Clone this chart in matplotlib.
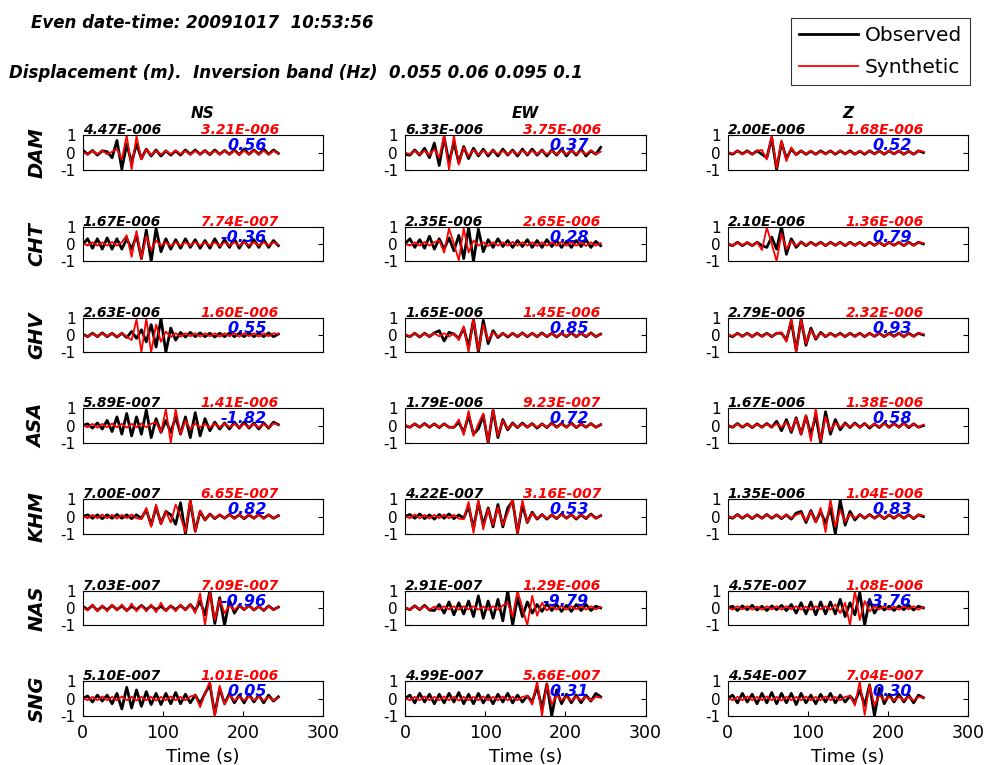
import numpy as np
import matplotlib
matplotlib.use("Agg")
import matplotlib.pyplot as plt

# ---------------- data (normalised waveforms) ----------------
SAMPLE_INTERVAL_S = 6.1   # spacing of the read-off samples (s)

STATIONS = ["DAM", "CHT", "GHV", "ASA", "KHM", "NAS", "SNG"]
COMPONENTS = ["NS", "EW", "Z"]

# amplitude labels (observed max, synthetic max) and variance reduction
OBS_MAX = [["4.47E-006", "6.33E-006", "2.00E-006"],
           ["1.67E-006", "2.35E-006", "2.10E-006"],
           ["2.63E-006", "1.65E-006", "2.79E-006"],
           ["5.89E-007", "1.79E-006", "1.67E-006"],
           ["7.00E-007", "4.22E-007", "1.35E-006"],
           ["7.03E-007", "2.91E-007", "4.57E-007"],
           ["5.10E-007", "4.99E-007", "4.54E-007"]]
SYN_MAX = [["3.21E-006", "3.75E-006", "1.68E-006"],
           ["7.74E-007", "2.65E-006", "1.36E-006"],
           ["1.60E-006", "1.45E-006", "2.32E-006"],
           ["1.41E-006", "9.23E-007", "1.38E-006"],
           ["6.65E-007", "3.16E-007", "1.04E-006"],
           ["7.09E-007", "1.29E-006", "1.08E-006"],
           ["1.01E-006", "5.66E-007", "7.04E-007"]]
VAR_RED = [[0.56, 0.37, 0.52],
           [-0.36, 0.28, 0.79],
           [0.55, 0.85, 0.93],
           [-1.82, 0.72, 0.58],
           [0.82, 0.53, 0.83],
           [-0.96, -9.79, -3.76],
           [0.05, 0.31, 0.30]]

DAM_NS_OBS = [0.15,-0.1,0.12,-0.15,0.1,0.05,-0.3,0.7,-0.96,0.5,
              -0.6,0.5,-0.35,0.2,-0.2,0.15,-0.2,0.1,-0.15,0.1,
              -0.15,0.15,-0.1,0.15,-0.1,0.12,-0.12,0.15,-0.1,0.12,
              -0.1,0.15,-0.12,0.2,-0.1,0.15,-0.1,0.2,-0.1,0.15,-0.05]
DAM_NS_SYN = [0.05,-0.12,0.1,-0.1,0.12,-0.1,0.05,0.2,-0.4,1.0,
              -1.0,0.95,-0.4,0.2,-0.15,0.1,-0.12,0.1,-0.1,0.12,
              -0.1,0.1,-0.12,0.1,-0.1,0.12,-0.1,0.1,-0.1,0.12,
              -0.1,0.1,-0.12,0.1,-0.1,0.12,-0.1,0.1,-0.12,0.1,-0.05]
CHT_NS_OBS = [-0.05,0.3,-0.25,0.3,-0.3,0.35,-0.3,0.3,-0.3,0.3,
              -0.3,0.5,-0.85,0.8,-1.0,0.9,-0.45,0.3,-0.3,0.25,
              -0.25,0.3,-0.2,0.25,-0.25,0.2,-0.25,0.3,-0.2,0.25,
              -0.2,0.3,-0.25,0.2,-0.2,0.25,-0.2,0.25,-0.2,0.2,-0.1]
CHT_NS_SYN = [0.05,-0.1,0.1,-0.1,0.1,-0.1,0.12,-0.1,0.1,0.5,
              -0.75,0.75,-0.85,0.45,-0.35,0.2,-0.1,0.1,-0.12,0.1,
              -0.1,0.1,-0.1,0.12,-0.1,0.1,-0.1,0.1,-0.12,0.1,
              -0.1,0.1,-0.1,0.12,-0.1,0.1,-0.1,0.1,-0.1,0.1,-0.05]
GHV_NS_OBS = [0.05,-0.1,0.1,-0.1,0.12,-0.1,0.1,-0.12,0.1,-0.15,
              0.2,-0.2,0.3,-0.4,0.6,-0.7,0.95,-1.0,0.4,-0.3,
              0.15,-0.12,0.15,-0.1,0.12,-0.1,0.1,-0.12,0.1,-0.1,
              0.12,-0.1,0.1,-0.1,0.12,-0.1,0.1,-0.1,0.12,-0.1,0.05]
GHV_NS_SYN = [0.0,-0.1,0.08,-0.1,0.1,-0.08,0.1,-0.1,0.1,-0.1,
              -0.3,0.9,-1.0,0.95,-1.0,0.6,-0.4,0.2,-0.12,0.1,
              -0.1,0.1,-0.08,0.1,-0.1,0.1,-0.08,0.1,-0.1,0.1,
              -0.08,0.1,-0.1,0.1,-0.08,0.1,-0.1,0.1,-0.08,0.1,0.05]
ASA_NS_OBS = [0.0,0.1,-0.15,0.15,-0.2,0.3,-0.35,0.5,-0.5,0.7,
              -0.6,0.5,-0.5,0.9,-0.7,0.4,-0.4,0.3,-0.4,0.5,
              -0.5,0.5,-0.7,0.75,-0.6,0.4,-0.3,0.2,-0.2,0.15,
              -0.2,0.2,-0.15,0.2,-0.15,0.15,-0.2,0.15,-0.15,0.2,0.05]
ASA_NS_SYN = [0.05,-0.1,0.1,-0.12,0.1,-0.1,0.12,-0.1,0.1,-0.12,
              0.1,-0.1,0.12,-0.1,0.1,0.2,-0.4,0.95,-1.0,0.95,
              -0.5,0.3,-0.2,0.12,-0.1,0.1,-0.12,0.1,-0.1,0.12,
              -0.1,0.1,-0.12,0.1,-0.1,0.1,-0.12,0.1,-0.1,0.12,0.05]
KHM_NS_OBS = [0.0,0.1,-0.1,0.1,-0.12,0.1,-0.1,0.12,-0.1,0.1,
              -0.12,0.1,-0.1,0.4,-0.5,0.55,-0.4,0.3,0.1,-0.45,
              0.8,-1.0,0.9,-0.85,0.3,-0.2,0.15,-0.12,0.1,-0.1,
              0.12,-0.1,0.1,-0.12,0.1,-0.1,0.12,-0.1,0.1,-0.1,0.05]
KHM_NS_SYN = [0.05,-0.1,0.1,-0.1,0.12,-0.1,0.1,-0.12,0.1,-0.1,
              0.12,-0.1,-0.15,0.5,-0.6,0.7,-0.45,0.3,-0.35,0.7,
              0.0,-0.9,1.0,-0.9,0.35,-0.2,0.15,-0.1,0.12,-0.1,
              0.1,-0.12,0.1,-0.1,0.12,-0.1,0.1,-0.12,0.1,-0.1,0.05]
NAS_NS_OBS = [0.1,-0.1,0.15,-0.15,0.1,-0.12,0.15,-0.1,0.12,-0.15,
              0.1,-0.1,0.15,-0.1,0.12,-0.1,0.1,-0.15,0.12,-0.1,
              0.15,-0.1,0.2,-0.15,0.4,-0.4,1.0,-0.9,0.6,-1.0,
              0.45,-0.3,0.15,-0.1,0.15,-0.12,0.1,-0.15,0.12,-0.1,0.05]
NAS_NS_SYN = [0.05,-0.15,0.2,-0.2,0.15,-0.2,0.2,-0.15,0.2,-0.2,
              0.25,-0.2,0.15,-0.2,0.2,-0.25,0.3,-0.2,0.15,-0.2,
              0.2,-0.15,0.2,-0.3,0.85,-1.0,0.9,-0.7,0.5,-0.3,
              0.15,-0.12,0.15,-0.1,0.15,-0.12,0.1,-0.15,0.1,-0.12,0.05]
SNG_NS_OBS = [0.0,0.15,-0.2,0.2,-0.15,0.2,-0.3,0.3,-0.6,0.65,
              -0.55,0.5,-0.45,0.4,-0.35,0.3,-0.35,0.3,-0.3,0.35,
              -0.3,0.25,-0.25,0.2,-0.3,0.3,0.8,-0.9,0.6,-0.3,
              0.3,-0.25,0.2,-0.25,0.25,-0.2,0.2,-0.25,0.2,-0.15,0.1]
SNG_NS_SYN = [0.05,-0.1,0.1,-0.1,0.12,-0.1,0.1,-0.1,0.12,-0.1,
              0.1,-0.12,0.1,-0.1,0.1,-0.12,0.1,-0.1,0.12,-0.1,
              0.1,-0.1,0.12,0.2,-0.5,0.3,1.0,-1.0,0.75,-0.35,
              0.2,-0.12,0.1,-0.1,0.12,-0.1,0.1,-0.12,0.1,-0.1,0.05]

DAM_EW_OBS = [-0.1,-0.15,0.15,-0.15,0.25,-0.3,0.55,-0.75,0.9,-0.6,
              0.6,-0.6,0.35,-0.35,0.25,-0.2,0.2,-0.2,0.15,-0.2,
              0.2,-0.15,0.15,-0.2,0.2,-0.15,0.2,-0.15,0.15,-0.2,
              0.15,-0.15,0.2,-0.2,0.15,-0.15,0.2,-0.2,0.1,-0.1,0.3]
DAM_EW_SYN = [0.0,-0.1,0.1,-0.12,0.1,-0.15,0.2,-0.3,1.0,-1.0,
              1.0,-0.7,0.3,-0.2,0.15,-0.12,0.1,-0.1,0.12,-0.1,
              0.1,-0.12,0.1,-0.1,0.12,-0.1,0.1,-0.1,0.12,-0.1,
              0.1,-0.12,0.1,-0.1,0.12,-0.1,0.1,-0.1,0.12,-0.1,0.05]
CHT_EW_OBS = [0.0,0.3,-0.2,0.25,-0.25,0.45,-0.3,0.3,-0.3,0.35,
              -0.4,0.5,-0.85,0.95,-1.0,0.85,-0.45,0.25,-0.2,0.3,
              -0.15,0.2,-0.2,0.2,-0.15,0.25,-0.2,0.2,-0.2,0.25,
              -0.15,0.2,-0.2,0.15,-0.2,0.2,-0.15,0.25,-0.2,0.15,-0.1]
CHT_EW_SYN = [0.0,-0.1,0.1,-0.1,0.12,-0.1,0.1,0.2,-0.5,0.9,
              0.0,-0.95,0.9,-0.5,0.2,-0.1,0.1,-0.12,0.1,-0.1,
              0.1,-0.1,0.12,-0.1,0.1,-0.1,0.1,-0.12,0.1,-0.1,
              0.1,-0.1,0.12,-0.1,0.1,-0.1,0.1,-0.12,0.1,-0.1,0.05]
GHV_EW_OBS = [0.0,-0.1,0.1,-0.12,0.1,-0.1,0.12,0.25,-0.35,0.15,
              0.05,-0.2,0.4,-0.7,0.9,-1.0,0.85,-0.5,0.25,-0.15,
              0.1,-0.12,0.1,-0.1,0.12,-0.1,0.1,-0.1,0.12,-0.1,
              0.1,-0.12,0.1,-0.1,0.12,-0.1,0.1,-0.1,0.12,-0.1,0.05]
GHV_EW_SYN = [0.05,-0.1,0.1,-0.1,0.08,-0.1,0.1,-0.08,0.1,-0.1,
              0.1,-0.3,0.5,-1.0,1.0,-0.9,0.6,-0.3,0.15,-0.1,
              0.1,-0.08,0.1,-0.1,0.1,-0.08,0.1,-0.1,0.1,-0.08,
              0.1,-0.1,0.1,-0.08,0.1,-0.1,0.1,-0.08,0.1,-0.1,0.05]
ASA_EW_OBS = [0.0,-0.1,0.1,-0.1,0.12,-0.1,0.1,-0.12,0.1,-0.1,
              -0.1,0.2,-0.4,0.6,-0.5,-0.2,0.6,-1.0,0.9,-0.7,
              0.35,-0.25,0.15,-0.12,0.15,-0.1,0.12,-0.15,0.1,-0.12,
              0.15,-0.1,0.12,-0.1,0.15,-0.12,0.1,-0.1,0.12,-0.1,0.05]
ASA_EW_SYN = [0.05,-0.1,0.1,-0.1,0.1,-0.08,0.1,-0.1,0.1,-0.1,
              -0.1,0.35,-0.55,0.85,-0.6,0.1,0.7,-0.95,0.95,-0.6,
              0.3,-0.2,0.12,-0.1,0.1,-0.1,0.12,-0.1,0.1,-0.1,
              0.12,-0.1,0.1,-0.1,0.12,-0.1,0.1,-0.1,0.12,-0.1,0.05]
KHM_EW_OBS = [0.0,0.12,-0.1,0.15,-0.12,0.1,-0.15,0.12,-0.1,0.15,
              -0.12,0.1,-0.1,0.6,-0.7,0.8,-0.5,0.5,-0.6,0.7,
              -0.6,0.5,0.9,-0.95,0.7,-0.35,0.25,-0.15,0.12,-0.15,
              0.1,-0.12,0.15,-0.1,0.12,-0.15,0.1,-0.12,0.15,-0.1,0.05]
KHM_EW_SYN = [0.05,-0.1,0.12,-0.1,0.1,-0.12,0.1,-0.1,0.12,-0.1,
              0.1,-0.12,-0.15,0.85,-0.95,1.0,-0.75,0.45,-0.5,0.55,
              -0.5,0.2,1.0,-1.0,0.95,-0.35,0.2,-0.12,0.1,-0.12,
              0.1,-0.1,0.12,-0.1,0.1,-0.12,0.1,-0.1,0.12,-0.1,0.05]
NAS_EW_OBS = [0.0,-0.1,0.12,-0.1,0.15,-0.12,-0.15,0.2,-0.3,0.35,
              -0.4,0.3,-0.35,0.4,-0.5,0.7,-0.6,0.4,-0.6,0.5,
              -0.75,1.0,-1.0,0.6,-0.5,0.35,-0.3,0.2,-0.2,0.25,
              -0.15,0.2,-0.2,0.15,-0.2,0.2,-0.15,0.2,-0.15,0.1,0.0]
NAS_EW_SYN = [0.05,-0.1,0.1,-0.08,0.1,-0.1,0.08,-0.1,0.1,-0.08,
              0.1,-0.1,0.1,-0.08,0.1,-0.1,0.08,-0.1,0.1,-0.1,
              0.15,0.3,-0.5,1.0,0.0,-1.0,0.7,-0.45,0.3,-0.15,
              0.1,-0.1,0.12,-0.1,0.1,-0.08,0.1,-0.1,0.1,-0.08,0.05]
SNG_EW_OBS = [0.0,0.2,-0.25,0.3,-0.2,0.25,-0.3,0.25,-0.25,0.3,
              -0.2,0.35,-0.3,0.25,-0.3,0.3,-0.25,0.2,-0.3,0.25,
              -0.2,0.3,-0.25,0.2,-0.2,0.15,-0.2,0.7,-0.6,0.85,
              -1.0,0.5,-0.3,0.25,-0.25,0.2,-0.25,0.2,-0.15,0.3,0.1]
SNG_EW_SYN = [0.05,-0.1,0.1,-0.1,0.12,-0.1,0.1,-0.1,0.12,-0.1,
              0.1,-0.12,0.1,-0.1,0.1,-0.1,0.12,-0.1,0.1,-0.1,
              0.12,-0.1,0.1,-0.1,0.1,0.15,-0.35,1.0,-1.0,0.85,
              -0.35,0.2,-0.1,0.1,-0.12,0.1,-0.1,0.1,-0.12,0.1,0.05]

DAM_Z_OBS = [0.0,-0.1,0.1,-0.08,0.1,-0.1,0.1,-0.1,-0.3,0.85,
             -1.0,0.6,-0.35,0.2,-0.12,0.1,-0.1,0.08,-0.1,0.1,
             -0.08,0.1,-0.1,0.1,-0.08,0.1,-0.1,0.08,-0.1,0.1,
             -0.08,0.1,-0.1,0.1,-0.08,0.1,-0.1,0.08,-0.1,0.1,0.0]
DAM_Z_SYN = [0.05,-0.08,0.1,-0.1,0.08,-0.1,0.1,0.15,-0.4,1.0,
             -0.9,0.7,-0.5,0.3,-0.15,0.1,-0.08,0.1,-0.1,0.08,
             -0.1,0.1,-0.08,0.1,-0.1,0.08,-0.1,0.1,-0.08,0.1,
             -0.1,0.08,-0.1,0.1,-0.08,0.1,-0.1,0.08,-0.1,0.1,0.05]
CHT_Z_OBS = [0.0,-0.1,0.1,-0.1,0.08,-0.1,0.1,-0.1,-0.2,0.4,
             -0.3,1.0,-0.6,0.3,-0.2,0.12,-0.1,0.1,-0.08,0.1,
             -0.1,0.1,-0.08,0.1,-0.1,0.1,-0.08,0.1,-0.1,0.1,
             -0.08,0.1,-0.1,0.1,-0.08,0.1,-0.1,0.1,-0.08,0.1,0.0]
CHT_Z_SYN = [0.05,-0.1,0.1,-0.08,0.1,-0.1,0.1,-0.35,0.95,0.0,
             -1.0,0.6,-0.3,0.15,-0.1,0.1,-0.08,0.1,-0.1,0.08,
             -0.1,0.1,-0.08,0.1,-0.1,0.08,-0.1,0.1,-0.08,0.1,
             -0.1,0.08,-0.1,0.1,-0.08,0.1,-0.1,0.08,-0.1,0.1,0.05]
GHV_Z_OBS = [0.0,-0.1,0.1,-0.08,0.1,-0.1,0.1,-0.08,0.1,-0.1,
             0.1,0.1,-0.3,0.8,-0.9,0.9,-0.6,0.4,-0.25,0.15,
             -0.1,0.1,-0.08,0.1,-0.1,0.1,-0.08,0.1,-0.1,0.1,
             -0.08,0.1,-0.1,0.1,-0.08,0.1,-0.1,0.1,-0.08,0.1,0.0]
GHV_Z_SYN = [0.05,-0.08,0.1,-0.1,0.08,-0.1,0.1,-0.1,0.08,-0.1,
             0.1,0.15,-0.4,1.0,-1.0,0.9,-0.5,0.3,-0.2,0.1,
             -0.08,0.1,-0.1,0.08,-0.1,0.1,-0.1,0.08,-0.1,0.1,
             -0.08,0.1,-0.1,0.08,-0.1,0.1,-0.1,0.08,-0.1,0.1,0.05]
ASA_Z_OBS = [0.0,-0.1,0.12,-0.1,0.1,-0.12,0.1,-0.1,0.12,-0.1,
             0.25,-0.3,0.35,-0.4,0.45,-0.5,0.55,-0.55,0.6,-1.0,
             0.8,-0.5,0.35,-0.25,0.15,-0.12,0.15,-0.1,0.12,-0.15,
             0.1,-0.12,0.15,-0.1,0.12,-0.1,0.15,-0.12,0.1,-0.1,0.0]
ASA_Z_SYN = [0.05,-0.1,0.1,-0.08,0.1,-0.1,0.08,-0.1,0.1,-0.08,
             0.1,-0.1,0.2,-0.3,0.4,-0.5,0.6,-0.9,1.0,-0.9,
             0.5,-0.3,0.15,-0.1,0.1,-0.08,0.1,-0.1,0.1,-0.08,
             0.1,-0.1,0.1,-0.08,0.1,-0.1,0.1,-0.08,0.1,-0.1,0.05]
KHM_Z_OBS = [0.0,-0.1,0.12,-0.1,0.1,-0.12,0.1,-0.1,0.12,-0.1,
             0.1,-0.12,0.1,-0.15,0.2,0.3,-0.35,0.35,-0.3,0.3,
             -0.4,0.5,-1.0,0.95,-0.5,0.3,-0.2,0.12,-0.1,0.12,
             -0.1,0.1,-0.12,0.1,-0.1,0.12,-0.1,0.1,-0.12,0.1,0.0]
KHM_Z_SYN = [0.05,-0.1,0.1,-0.08,0.1,-0.1,0.08,-0.1,0.1,-0.08,
             0.1,-0.1,0.1,-0.08,0.1,0.2,-0.25,0.3,-0.35,0.5,
             -0.9,1.0,-0.6,0.4,-0.3,0.15,-0.1,0.1,-0.08,0.1,
             -0.1,0.08,-0.1,0.1,-0.08,0.1,-0.1,0.08,-0.1,0.1,0.05]
NAS_Z_OBS = [0.0,0.1,-0.15,0.12,-0.1,0.15,-0.12,0.1,-0.15,0.12,
             -0.1,0.15,-0.15,0.2,-0.3,0.3,-0.35,0.35,-0.4,0.35,
             -0.35,0.35,-0.35,0.5,-0.5,0.3,-0.4,0.9,-1.0,0.5,
             -0.3,0.15,-0.12,0.1,-0.15,0.12,-0.1,0.15,-0.12,0.1,0.0]
NAS_Z_SYN = [0.05,-0.1,0.1,-0.08,0.1,-0.1,0.08,-0.1,0.1,-0.08,
             0.1,-0.1,0.1,-0.08,0.1,-0.1,0.08,-0.1,0.1,-0.08,
             0.1,-0.1,0.2,-0.3,0.3,-1.0,1.0,-0.7,0.4,-0.2,
             0.1,-0.08,0.1,-0.1,0.08,-0.1,0.1,-0.08,0.1,-0.1,0.05]
SNG_Z_OBS = [0.0,0.2,-0.25,0.3,-0.2,0.25,-0.3,0.3,-0.25,0.35,
             -0.3,0.3,-0.25,0.3,-0.35,0.3,-0.25,0.2,-0.3,0.25,
             -0.2,0.3,-0.25,0.2,-0.2,0.15,-0.2,0.5,-0.4,0.8,
             -1.0,0.6,-0.3,0.25,-0.2,0.25,-0.2,0.2,-0.25,0.2,0.05]
SNG_Z_SYN = [0.05,-0.1,0.1,-0.1,0.12,-0.1,0.1,-0.1,0.12,-0.1,
             0.1,-0.12,0.1,-0.1,0.1,-0.1,0.12,-0.1,0.1,-0.1,
             0.12,-0.1,0.1,-0.1,0.1,0.15,-0.4,1.0,-0.95,0.8,
             -0.4,0.2,-0.1,0.1,-0.12,0.1,-0.1,0.1,-0.12,0.1,0.05]

OBSERVED = [[DAM_NS_OBS, DAM_EW_OBS, DAM_Z_OBS],
            [CHT_NS_OBS, CHT_EW_OBS, CHT_Z_OBS],
            [GHV_NS_OBS, GHV_EW_OBS, GHV_Z_OBS],
            [ASA_NS_OBS, ASA_EW_OBS, ASA_Z_OBS],
            [KHM_NS_OBS, KHM_EW_OBS, KHM_Z_OBS],
            [NAS_NS_OBS, NAS_EW_OBS, NAS_Z_OBS],
            [SNG_NS_OBS, SNG_EW_OBS, SNG_Z_OBS]]
SYNTHETIC = [[DAM_NS_SYN, DAM_EW_SYN, DAM_Z_SYN],
             [CHT_NS_SYN, CHT_EW_SYN, CHT_Z_SYN],
             [GHV_NS_SYN, GHV_EW_SYN, GHV_Z_SYN],
             [ASA_NS_SYN, ASA_EW_SYN, ASA_Z_SYN],
             [KHM_NS_SYN, KHM_EW_SYN, KHM_Z_SYN],
             [NAS_NS_SYN, NAS_EW_SYN, NAS_Z_SYN],
             [SNG_NS_SYN, SNG_EW_SYN, SNG_Z_SYN]]

X_TICKS = [0, 100, 200, 300]
Y_TICKS = [-1, 0, 1]

# ---------------- layout ----------------
W, H = 986, 765
fig = plt.figure(figsize=(W / 100, H / 100), dpi=100)

COL_LEFT = [82.7, 405.0, 727.7]
AX_W = 240.6
ROW_TOP = [135.3, 226.7, 317.7, 408.3, 499.3, 590.7, 681.3]
AX_H = 34.5

BI = dict(fontweight="bold", fontstyle="italic")

obs_handle = None
syn_handle = None
for r, st in enumerate(STATIONS):
    for c, comp in enumerate(COMPONENTS):
        ax = fig.add_axes([COL_LEFT[c] / W, 1 - (ROW_TOP[r] + AX_H) / H, AX_W / W, AX_H / H])
        obs = np.asarray(OBSERVED[r][c], dtype=float)
        syn = np.asarray(SYNTHETIC[r][c], dtype=float)
        t_obs = np.arange(len(obs)) * SAMPLE_INTERVAL_S
        t_syn = np.arange(len(syn)) * SAMPLE_INTERVAL_S
        l1, = ax.plot(t_obs, obs, color="black", lw=2.0, solid_joinstyle="round")
        l2, = ax.plot(t_syn, syn, color="red", lw=1.3, solid_joinstyle="round")
        obs_handle, syn_handle = l1, l2
        ax.set_xlim(0, 300)
        ax.set_ylim(-1, 1)
        ax.set_yticks(Y_TICKS)
        ax.set_yticklabels([str(v) for v in Y_TICKS])
        ax.tick_params(axis="y", direction="in", right=True, length=3.5, width=0.8,
                       labelsize=11, pad=5)
        for sp in ax.spines.values():
            sp.set_linewidth(0.8)
        if r == len(STATIONS) - 1:
            ax.set_xticks(X_TICKS)
            ax.set_xticklabels([str(v) for v in X_TICKS])
            ax.tick_params(axis="x", direction="in", length=3.5, width=0.8,
                           labelsize=12.5, pad=6)
            ax.set_xlabel("Time (s)", fontsize=13, labelpad=4)
        else:
            ax.set_xticks([])
        if c == 0:
            ax.set_ylabel(st, fontsize=14, labelpad=10, **BI)
        ax.text(0, 1.28, OBS_MAX[r][c], color="black", fontsize=10, ha="left",
                va="center", clip_on=False, **BI)
        ax.text(147, 1.28, SYN_MAX[r][c], color="red", fontsize=10, ha="left",
                va="center", clip_on=False, **BI)
        ax.text(229.6, 0.40, f"{VAR_RED[r][c]:.2f}", color="blue", fontsize=11.5,
                ha="right", va="center", clip_on=False, **BI)
        if r == 0:
            fig.text((COL_LEFT[c] + AX_W / 2) / W, 1 - 113 / H, comp, ha="center",
                     va="center", fontsize=11, **BI)

fig.text(31 / W, 1 - 22.5 / H, "Even date-time: 20091017  10:53:56",
         ha="left", va="center", fontsize=12, **BI)
fig.text(9.4 / W, 1 - 73 / H,
         "Displacement (m).  Inversion band (Hz)  0.055 0.06 0.095 0.1",
         ha="left", va="center", fontsize=12, **BI)

leg = fig.legend([obs_handle, syn_handle], ["Observed", "Synthetic"],
                 loc="upper right", bbox_to_anchor=(970 / W, 1 - 18 / H),
                 fontsize=14.5, frameon=True, fancybox=False, handlelength=2.9,
                 borderpad=0.4, labelspacing=0.65, handletextpad=0.35,
                 borderaxespad=0)
leg.get_frame().set_edgecolor("black")
leg.get_frame().set_linewidth(0.8)

fig.savefig("out.png", dpi=100)
